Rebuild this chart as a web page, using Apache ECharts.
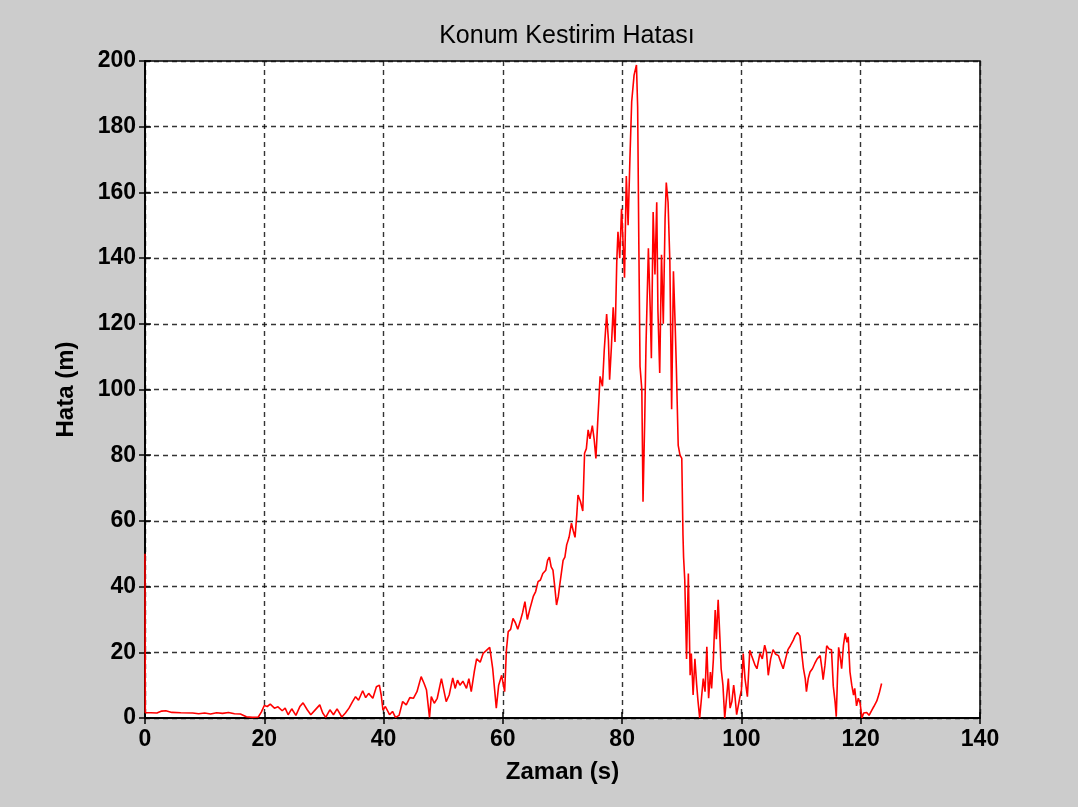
<!DOCTYPE html>
<html>
<head>
<meta charset="utf-8">
<script src="https://cdn.jsdelivr.net/npm/echarts@6/dist/echarts.min.js"></script>
<style>
html,body{margin:0;padding:0;background:#cccccc;}
#chart{width:1078px;height:807px;}
</style>
</head>
<body>
<div id="chart"></div>
<script>
const titleText = 'Konum Kestirim Hatası';
const xName = 'Zaman (s)';
const yName = 'Hata (m)';
const xTicks = [0, 20, 40, 60, 80, 100, 120, 140];
const yTicks = [0, 20, 40, 60, 80, 100, 120, 140, 160, 180, 200];

const timeS = [
0,0.05,1,2,2.8,3.5,4.5,6,8,9,10,11,12,13,14,15,16,17,18,19,19.5,
20,20.5,21,21.7,22.3,23,23.5,24,24.6,25.3,26,26.5,27.2,27.8,28.5,29.3,29.8,30.3,31,31.6,32.2,33,33.6,34.2,34.8,35.3,35.8,36.5,37,37.5,38.2,38.8,39.3,39.6,39.9,
40.3,41,41.5,42,42.6,43.2,43.8,44.4,45,45.6,46.3,46.8,47.2,47.7,48,48.5,49,49.7,50.1,50.5,51,51.6,52,52.4,52.8,53.3,53.9,54.3,54.7,55.2,55.6,56.2,56.7,57.2,57.8,58.3,58.6,58.9,59.3,59.8,
60.3,60.6,60.9,61.3,61.7,62.1,62.5,63,63.3,63.7,64.1,64.5,65.1,65.5,65.9,66.3,66.7,67.2,67.5,67.8,68.1,68.4,68.7,69,69.3,69.5,70.1,70.4,70.7,71.1,71.5,71.8,72.1,72.4,72.6,73,73.4,73.7,74,74.3,74.6,75,75.3,75.6,75.9,76.1,76.3,76.7,77,77.4,77.7,77.9,78.2,78.5,78.8,79.1,79.3,79.6,79.9,
80.2,80.4,80.7,81,81.3,81.6,82,82.4,82.6,82.8,83,83.3,83.5,83.8,84,84.4,84.7,84.9,85.2,85.5,85.8,86,86.3,86.6,86.9,87.2,87.4,87.7,88,88.3,88.6,88.9,89.1,89.4,89.7,
90,90.2,90.3,90.5,90.8,91.1,91.4,91.6,91.9,92.2,92.5,92.7,93,93.3,93.6,93.9,94.2,94.5,94.8,95,95.3,95.6,95.8,96.1,96.4,96.6,96.9,97.2,97.5,97.8,98.1,98.4,98.7,98.9,99.2,99.4,99.7,
100,100.3,100.6,101,101.4,101.7,102.3,102.6,103.1,103.5,103.9,104.2,104.5,104.9,105.3,105.7,106.2,106.6,107,107.4,107.8,108.2,108.7,109,109.4,109.8,
110.1,110.4,110.7,110.9,111.2,111.5,111.9,112.3,112.7,113.2,113.5,113.7,114,114.3,114.7,115.1,115.4,115.7,115.9,116.1,116.3,116.6,116.8,117.1,117.4,117.7,117.9,118.2,118.5,118.8,119,119.3,119.6,119.9,
120.2,120.5,121,121.4,121.8,122.2,122.7,123.1,123.5
];

const errorM = [
50,1.6,1.6,1.5,2.1,2.2,1.7,1.6,1.5,1.3,1.5,1.2,1.6,1.4,1.7,1.3,1.2,0.4,0.2,0.3,1.8,
3.8,3.5,4.2,3.0,3.4,2.2,3.0,1.0,2.8,0.8,3.6,4.6,2.5,1.0,2.4,4.0,1.5,0.2,2.5,1.0,2.8,0.3,1.5,3.0,5.0,6.5,5.4,8.3,6.2,7.5,6.0,9.5,10,7,2.4,
3.5,1.0,2.0,0.2,0.8,5.0,4.0,6.2,6.0,8.0,12.6,10.5,8.5,0.2,6.5,4.5,6.0,12.0,8.5,5.0,7.0,12.2,9.0,11.5,10.0,11.2,9.0,12.0,8.0,14.0,18.0,17.0,19.7,20.5,21.5,15.0,9.0,3.0,10.0,13.0,
8.0,20.7,26.3,27.0,30.3,29.0,27.0,30.0,32.0,35.4,30.0,33.0,37.0,38.5,41.5,42.0,44.0,45.0,48.0,49.0,46.0,45.0,40.0,34.4,37.0,40.0,48.0,49.0,52.7,55.0,59.3,57.0,55.0,62.0,67.9,66.0,63.0,80.6,82.0,87.7,85.0,89.0,85.0,79.0,90.0,96.8,104,101,112,123,115,103,113,125,114.5,139,148,140,155,
143,134,165,150,170,187.6,195.7,198.8,186,144,107,100,65.8,92,113.5,143,125,109.5,154,135,157,124,105,141,120,152,163,157,139,94,136,119,106,83,80,
79,55.7,49,42,18,44,13,19.6,7,18,10,5.5,0,6,12,8,21.7,6,14,9,18,32.9,24,36,24,15,10,0,6,12,3,5,10,7,1,3,6,
8.5,19.6,12,6.5,20.6,19,16,15,19.7,18,22.2,20,13,18,20.8,19.5,19,17,15,18,20.8,22,23.7,25,26,25,
20,15,12,8,12,14,15,16.6,18,19,15,11.7,16,22,21,20.8,9.7,5,0.4,12,21.5,18,15,22,25.8,23,24.7,14,10,7,9,3.7,6,4.5,
0,1.5,1.7,0.8,2.2,3.5,5.2,7.5,10.5
];

const seriesData = timeS.map((t, i) => [t, errorM[i]]);

const FONT = 'Arial, "Liberation Sans", sans-serif';
const chart = echarts.init(document.getElementById('chart'), null, {renderer: 'canvas'});

const gridLine = {show: true, lineStyle: {color: '#111', type: [5, 4], width: 1.4, opacity: 0.85}};
const tickStyle = {show: true, inside: true, length: 6, lineStyle: {color: '#000', width: 1.5}};

chart.setOption({
  animation: false,
  backgroundColor: '#cccccc',
  title: {
    text: titleText, left: 562, top: 19, textAlign: 'center',
    textStyle: {fontFamily: FONT, fontSize: 25, fontWeight: 'normal', color: '#000'}
  },
  grid: {
    left: 145, top: 61, right: 98, bottom: 89,
    show: true, backgroundColor: '#ffffff', borderColor: '#000', borderWidth: 1.5
  },
  xAxis: [{
    type: 'value', min: xTicks[0], max: xTicks[xTicks.length - 1], interval: 20,
    name: xName, nameLocation: 'middle', nameGap: 42,
    nameTextStyle: {fontFamily: FONT, fontSize: 24, fontWeight: 'bold', color: '#000'},
    axisLine: {show: true, onZero: false, lineStyle: {color: '#000', width: 1.5}},
    axisTick: tickStyle,
    axisLabel: {fontFamily: FONT, fontSize: 23, fontWeight: 'bold', color: '#000', margin: 10},
    splitLine: gridLine
  }, {
    type: 'value', position: 'top', min: xTicks[0], max: xTicks[xTicks.length - 1], interval: 20,
    axisLine: {show: true, lineStyle: {color: '#000', width: 1.5}},
    axisTick: tickStyle, axisLabel: {show: false}, splitLine: {show: false}
  }],
  yAxis: [{
    type: 'value', min: yTicks[0], max: yTicks[yTicks.length - 1], interval: 20,
    name: yName, nameLocation: 'middle', nameGap: 67,
    nameTextStyle: {fontFamily: FONT, fontSize: 24, fontWeight: 'bold', color: '#000'},
    axisLine: {show: true, onZero: false, lineStyle: {color: '#000', width: 1.5}},
    axisTick: tickStyle,
    axisLabel: {fontFamily: FONT, fontSize: 23, fontWeight: 'bold', color: '#000', margin: 9},
    splitLine: gridLine
  }, {
    type: 'value', position: 'right', min: yTicks[0], max: yTicks[yTicks.length - 1], interval: 20,
    axisLine: {show: true, lineStyle: {color: '#000', width: 1.5}},
    axisTick: tickStyle, axisLabel: {show: false}, splitLine: {show: false}
  }],
  series: [{
    type: 'line', data: seriesData, xAxisIndex: 0, yAxisIndex: 0,
    showSymbol: false, symbol: 'none', sampling: null,
    lineStyle: {color: '#ff0000', width: 1.6},
    z: 5
  }]
});
</script>
</body>
</html>
